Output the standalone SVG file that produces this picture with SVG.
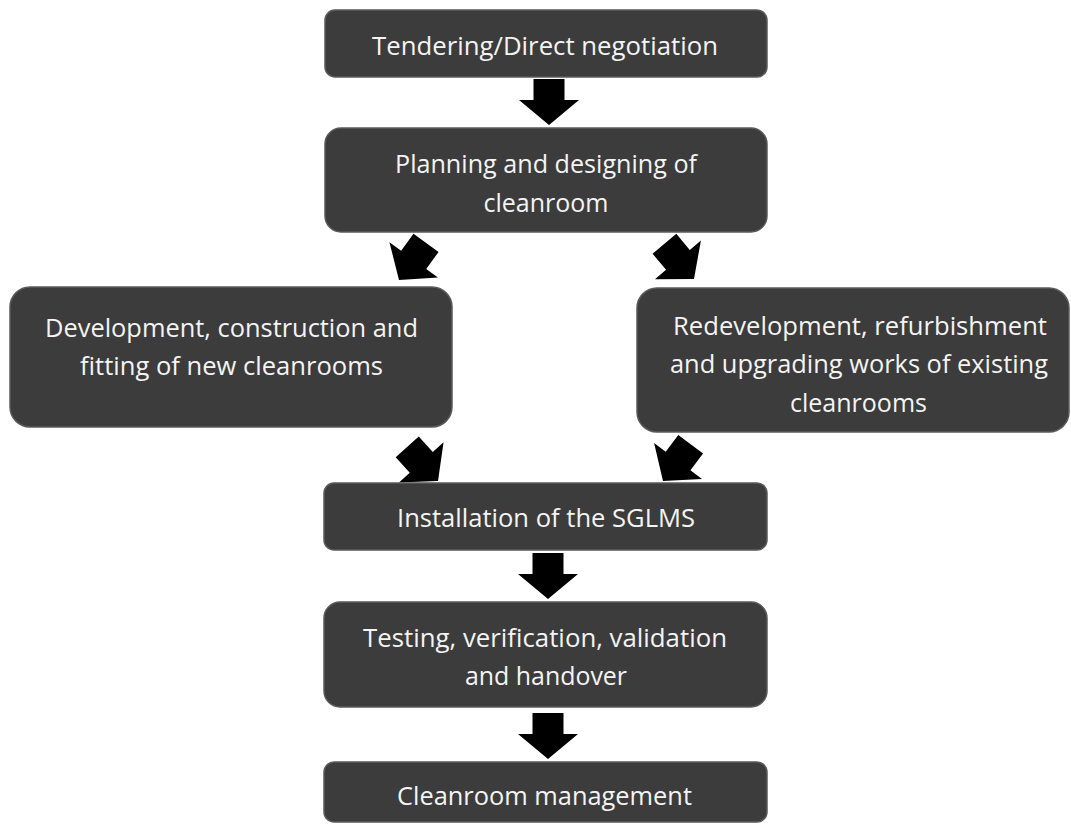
<svg xmlns="http://www.w3.org/2000/svg" width="1071" height="824" viewBox="0 0 1071 824">
<style>
.box{fill:#3c3c3c;stroke:#5a5a5a;stroke-width:1.5}
.t{font-family:"Open Sans","Liberation Sans",sans-serif;font-size:26px;fill:#f4f4f4;text-anchor:middle}
.arr{fill:#000}
</style>
<defs>
<path id="a" d="M-15.5,-46 H15.5 V-25 H30 L0,0 L-30,-25 H-15.5 Z"/>
</defs>
<rect width="1071" height="824" fill="#fff"/>
<g id="connectors" class="arr">
<use href="#a" transform="translate(549,125)"/>
<use href="#a" transform="translate(399,280) rotate(36)"/>
<use href="#a" transform="translate(694,279) rotate(-40)"/>
<use href="#a" transform="translate(438,481) rotate(-42)"/>
<use href="#a" transform="translate(663,481) rotate(37)"/>
<use href="#a" transform="translate(548,599)"/>
<use href="#a" transform="translate(548,759)"/>
</g>
<g id="n1"><rect class="box" x="325" y="10" width="442" height="67" rx="10"/>
<text class="t" x="545" y="55" textLength="346" lengthAdjust="spacingAndGlyphs">Tendering/Direct negotiation</text></g>
<g id="n2"><rect class="box" x="325" y="128" width="442" height="104" rx="16"/>
<text class="t" x="546" y="173" textLength="302" lengthAdjust="spacingAndGlyphs">Planning and designing of</text>
<text class="t" x="546" y="212" textLength="125" lengthAdjust="spacingAndGlyphs">cleanroom</text></g>
<g id="n3"><rect class="box" x="10" y="287" width="442" height="140" rx="20"/>
<text class="t" x="231.5" y="337" textLength="373" lengthAdjust="spacingAndGlyphs">Development, construction and</text>
<text class="t" x="231.5" y="375" textLength="303" lengthAdjust="spacingAndGlyphs">fitting of new cleanrooms</text></g>
<g id="n4"><rect class="box" x="637" y="288" width="432" height="144" rx="20"/>
<text class="t" x="860" y="335" textLength="374" lengthAdjust="spacingAndGlyphs">Redevelopment, refurbishment</text>
<text class="t" x="859" y="373" textLength="378" lengthAdjust="spacingAndGlyphs">and upgrading works of existing</text>
<text class="t" x="858.5" y="412" textLength="137" lengthAdjust="spacingAndGlyphs">cleanrooms</text></g>
<g id="n5"><rect class="box" x="324" y="483" width="443" height="67" rx="10"/>
<text class="t" x="546" y="527" textLength="298" lengthAdjust="spacingAndGlyphs">Installation of the SGLMS</text></g>
<g id="n6"><rect class="box" x="324" y="602" width="443" height="105" rx="16"/>
<text class="t" x="545" y="647" textLength="364" lengthAdjust="spacingAndGlyphs">Testing, verification, validation</text>
<text class="t" x="546" y="685" textLength="162" lengthAdjust="spacingAndGlyphs">and handover</text></g>
<g id="n7"><rect class="box" x="324" y="762" width="443" height="60" rx="10"/>
<text class="t" x="544.5" y="805" textLength="295" lengthAdjust="spacingAndGlyphs">Cleanroom management</text></g>
</svg>
